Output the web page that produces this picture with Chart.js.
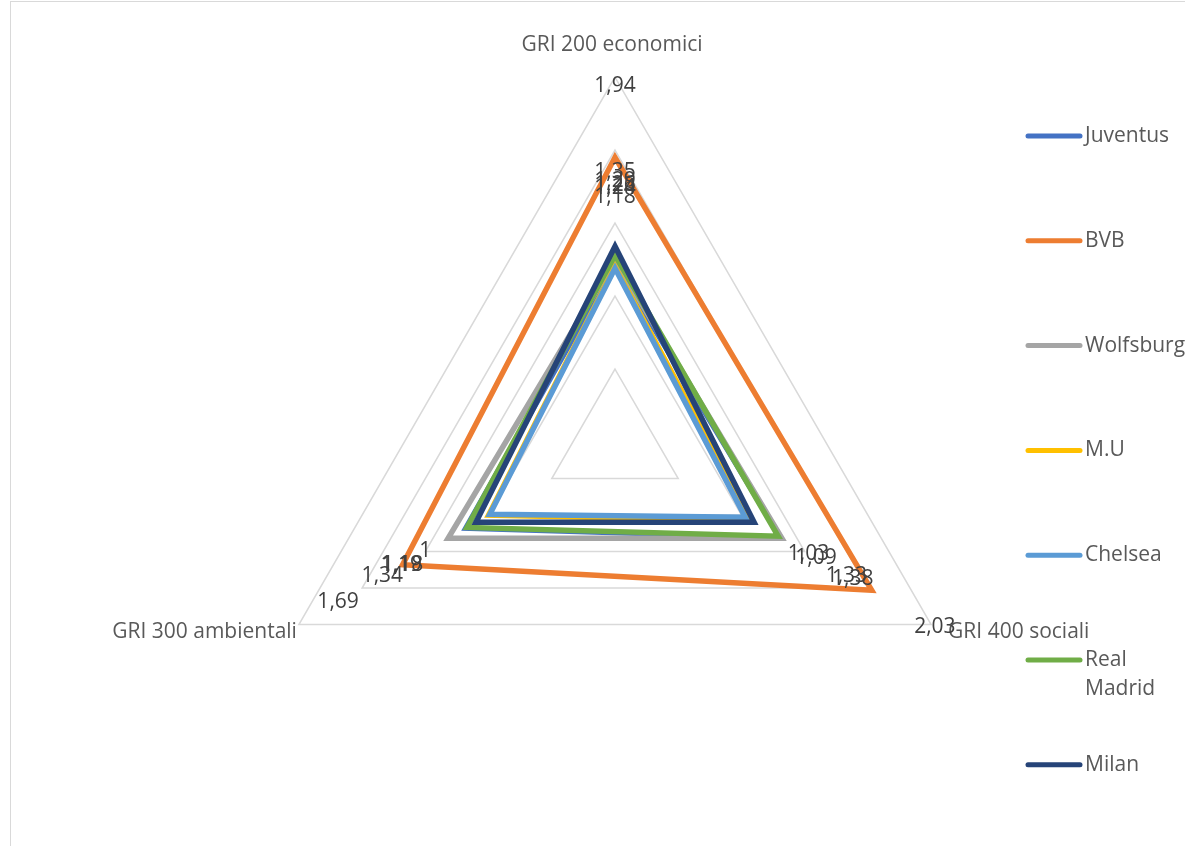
<!DOCTYPE html>
<html>
<head>
<meta charset="utf-8">
<style>
    html, body { margin: 0; padding: 0; background: #fff; }
    .chart-box { position: absolute; left: 0; top: 0; width: 1185px; height: 846px; }
    .frame { position: absolute; left: 10px; top: 1px; right: 0; bottom: 0; border-left: 1px solid #d9d9d9; border-top: 1px solid #d9d9d9; }
    #radarChart { position: absolute; left: 0; top: 0; }
</style>
</head>
<body>
<div class="chart-box">
    <div class="frame"></div>
    <canvas id="radarChart" width="1185" height="846"></canvas>
</div>
<script src="https://cdn.jsdelivr.net/npm/chart.js"></script>

<script>
    // categories go clockwise from the top, like in the excel sheet
    const categories = ["GRI 200 economici", "GRI 400 sociali", "GRI 300 ambientali"];

    const teams = ["Juventus", "BVB", "Wolfsburg", "M.U", "Chelsea", "Real Madrid", "Milan"];
    const juventus = [0.72, 0.81, 0.68];
    const bvb = [1.45, 1.53, 1.18];
    const wolfsburg = [0.75, 0.82, 0.82];
    const manUtd = [0.70, 0.58, 0.50];
    const chelsea = [0.69, 0.53, 0.49];
    const realMadrid = [0.78, 0.79, 0.67];
    const milan = [0.84, 0.60, 0.60];
    const teamValues = [juventus, bvb, wolfsburg, manUtd, chelsea, realMadrid, milan];
    const teamColors = ["#4472C4", "#ED7D31", "#A5A5A5", "#FFC000", "#5B9BD5", "#70AD47", "#264478"];

    // value labels printed on the chart, one list per category
    const labels200 = [1.94, 1.35, 1.29, 1.26, 1.24, 1.18];
    const labels400 = [2.03, 1.38, 1.33, 1.09, 1.03];
    const labels300 = [1.69, 1.34, 1.19, 1.18, 1];
    const valueLabels = [labels200, labels400, labels300];

    // axis (no tick labels shown)
    const axisMin = -0.5;
    const axisMax = 2;
    const axisStep = 0.5;

    const FONT = "'Open Sans', 'DejaVu Sans', sans-serif";

    function fmt(v) {
        return String(v).replace(".", ",");
    }

    const excelLook = {
        id: 'excelLook',
        afterDatasetsDraw(chart) {
            const ctx = chart.ctx;
            const r = chart.scales.r;
            ctx.save();

            // category names around the triangle
            ctx.font = "21px " + FONT;
            ctx.fillStyle = "#595959";
            ctx.textBaseline = "middle";
            categories.forEach((name, i) => {
                const p = r.getPointPosition(i, r.drawingArea);
                if (i == 0) {
                    ctx.textAlign = "center";
                    ctx.fillText(name, p.x - 3, p.y - 32);
                } else if (i == 1) {
                    ctx.textAlign = "left";
                    ctx.fillText(name, p.x + 17, p.y + 8);
                } else {
                    ctx.textAlign = "right";
                    ctx.fillText(name, p.x - 2, p.y + 8);
                }
            });

            // data labels, each one sitting at its own value
            ctx.fillStyle = "#404040";
            ctx.textAlign = "center";
            valueLabels.forEach((list, i) => {
                list.forEach(v => {
                    const p = r.getPointPositionForValue(i, v);
                    ctx.fillText(fmt(v), p.x, p.y);
                });
            });

            // legend on the right
            ctx.fillStyle = "#595959";
            ctx.textAlign = "left";
            teams.forEach((name, i) => {
                const y = 136 + i * 104.8;
                ctx.strokeStyle = teamColors[i];
                ctx.lineWidth = 5;
                ctx.lineCap = "round";
                ctx.beginPath();
                ctx.moveTo(1028, y);
                ctx.lineTo(1080, y);
                ctx.stroke();

                let lines = [name];
                if (ctx.measureText(name).width > 98 && name.includes(" ")) {
                    lines = name.split(" ");
                }
                lines.forEach((t, k) => {
                    ctx.fillText(t, 1085, y + k * 29);
                });
            });

            ctx.restore();
        }
    };

    const datasets = teams.map((name, i) => ({
        label: name,
        data: teamValues[i],
        borderColor: teamColors[i],
        backgroundColor: "rgba(0,0,0,0)",
        borderWidth: 5.5,
        pointRadius: 0,
        pointHoverRadius: 0,
        fill: false,
        order: teams.length - i
    }));

    const config = {
        type: 'radar',
        data: {
            labels: categories,
            datasets: datasets
        },
        options: {
            responsive: false,
            animation: false,
            devicePixelRatio: 1,
            layout: {
                padding: {left: 250, right: 205, top: 77, bottom: 39}
            },
            plugins: {
                legend: {display: false},
                tooltip: {enabled: false}
            },
            elements: {
                line: {tension: 0, borderJoinStyle: 'miter'}
            },
            scales: {
                r: {
                    min: axisMin,
                    max: axisMax,
                    ticks: {display: false, stepSize: axisStep},
                    grid: {color: "#d9d9d9", lineWidth: 1.5},
                    angleLines: {display: false},
                    pointLabels: {display: false}
                }
            }
        },
        plugins: [excelLook]
    };

    const radarChart = new Chart(document.getElementById('radarChart').getContext('2d'), config);
</script>
</body>
</html>
